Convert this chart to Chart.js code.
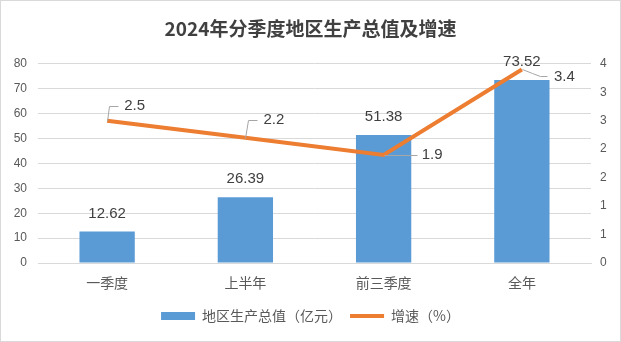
<!DOCTYPE html>
<html>
<head>
<meta charset="utf-8">
<script src="https://cdn.jsdelivr.net/npm/chart.js@4/dist/chart.umd.min.js"></script>
<style>
html,body{margin:0;padding:0;background:#fff;}
canvas{display:block;}
</style>
</head>
<body>
<canvas id="c" width="621" height="342"></canvas>
<script>
const categories = ['一季度', '上半年', '前三季度', '全年'];
const gdpValues = [12.62, 26.39, 51.38, 73.52];
const growthValues = [2.5, 2.2, 1.9, 3.4];
const gdpLabel = '地区生产总值（亿元）';
const growthLabel = '增速（%）';
const titleText = '2024年分季度地区生产总值及增速';

const CJK = '"Noto Sans CJK SC", "Noto Sans", sans-serif';
const LAT = '"Liberation Sans", Arial, sans-serif';

// label offsets (style only): text start dx, text centre dy, leader path relative points
const growthLabelStyle = [
  {dx: 17, dy: -15, path: [[0,0],[2,-15],[11,-15]]},
  {dx: 18, dy: -18, path: [[0,0],[3,-18],[12,-18]]},
  {dx: 38, dy: 0, path: [[0,0],[33,0]]},
  {dx: 32, dy: 7, path: [[0,0],[10,4],[18,7],[25,7]]}
];

const labelPlugin = {
  id: 'labels',
  beforeDraw(chart) {
    const ctx = chart.ctx;
    ctx.save();
    ctx.strokeStyle = '#d9d9d9';
    ctx.lineWidth = 1;
    ctx.strokeRect(0.5, 0.5, chart.width - 1, chart.height - 1);
    ctx.restore();
  },
  afterDatasetsDraw(chart) {
    const ctx = chart.ctx;
    ctx.save();
    ctx.font = '15px ' + LAT;
    ctx.fillStyle = '#404040';
    const barMeta = chart.getDatasetMeta(0);
    barMeta.data.forEach((el, i) => {
      ctx.textAlign = 'center';
      ctx.textBaseline = 'middle';
      ctx.fillText(gdpValues[i].toFixed(2), el.x, el.y - 18);
    });
    const lineMeta = chart.getDatasetMeta(1);
    lineMeta.data.forEach((el, i) => {
      const s = growthLabelStyle[i];
      ctx.strokeStyle = '#a6a6a6';
      ctx.lineWidth = 1;
      ctx.beginPath();
      s.path.forEach((p, k) => {
        const px = Math.round(el.x + p[0]) + 0.5, py = Math.round(el.y + p[1]) + 0.5;
        if (k === 0) ctx.moveTo(px, py); else ctx.lineTo(px, py);
      });
      ctx.stroke();
      ctx.textAlign = 'left';
      ctx.textBaseline = 'middle';
      ctx.fillText(String(growthValues[i]), el.x + s.dx, el.y + s.dy);
    });
    ctx.restore();
  }
};

new Chart(document.getElementById('c'), {
  data: {
    labels: categories,
    datasets: [
      {
        type: 'bar',
        label: gdpLabel,
        data: gdpValues,
        backgroundColor: '#5b9bd5',
        yAxisID: 'y',
        order: 2,
        categoryPercentage: 0.8,
        barPercentage: 0.5
      },
      {
        type: 'line',
        label: growthLabel,
        data: growthValues,
        borderColor: '#ed7d31',
        backgroundColor: '#ed7d31',
        borderWidth: 4,
        pointRadius: 0,
        tension: 0,
        yAxisID: 'y1',
        order: 1
      }
    ]
  },
  options: {
    responsive: false,
    animation: false,
    layout: {padding: {top: 0, bottom: 9, left: 0, right: 0}},
    plugins: {
      tooltip: {enabled: false},
      title: {
        display: true,
        text: titleText,
        color: '#404040',
        font: {family: CJK, size: 19, weight: 'bold', lineHeight: 1.2},
        padding: {top: 17, bottom: 24}
      },
      legend: {
        position: 'bottom',
        labels: {
          usePointStyle: true,
          pointStyleWidth: 34,
          boxHeight: 8,
          padding: 8,
          color: '#595959',
          font: {family: CJK, size: 14},
          generateLabels(chart) {
            return [
              {text: gdpLabel, pointStyle: 'rect', fillStyle: '#5b9bd5', strokeStyle: '#5b9bd5', lineWidth: 0, datasetIndex: 0, fontColor: '#595959'},
              {text: growthLabel, pointStyle: 'line', fillStyle: '#ed7d31', strokeStyle: '#ed7d31', lineWidth: 4, datasetIndex: 1, fontColor: '#595959'}
            ];
          }
        }
      }
    },
    scales: {
      x: {
        grid: {display: false, drawTicks: false},
        border: {display: true, color: '#d9d9d9'},
        ticks: {color: '#595959', font: {family: CJK, size: 14}, padding: 11},
        afterFit(s) { s.height = 38; }
      },
      y: {
        position: 'left',
        min: 0, max: 80,
        ticks: {stepSize: 10, color: '#595959', font: {family: LAT, size: 12}, padding: 11},
        grid: {color: '#d9d9d9', drawTicks: false},
        border: {display: false},
        afterFit(s) { s.width = 38; }
      },
      y1: {
        position: 'right',
        min: 0, max: 3.5,
        ticks: {stepSize: 0.5, color: '#595959', font: {family: LAT, size: 12}, padding: 9,
          callback: v => Math.round(v)},
        grid: {display: false, drawTicks: false},
        border: {display: false},
        afterFit(s) { s.width = 30; }
      }
    }
  },
  plugins: [labelPlugin]
});
</script>
</body>
</html>
